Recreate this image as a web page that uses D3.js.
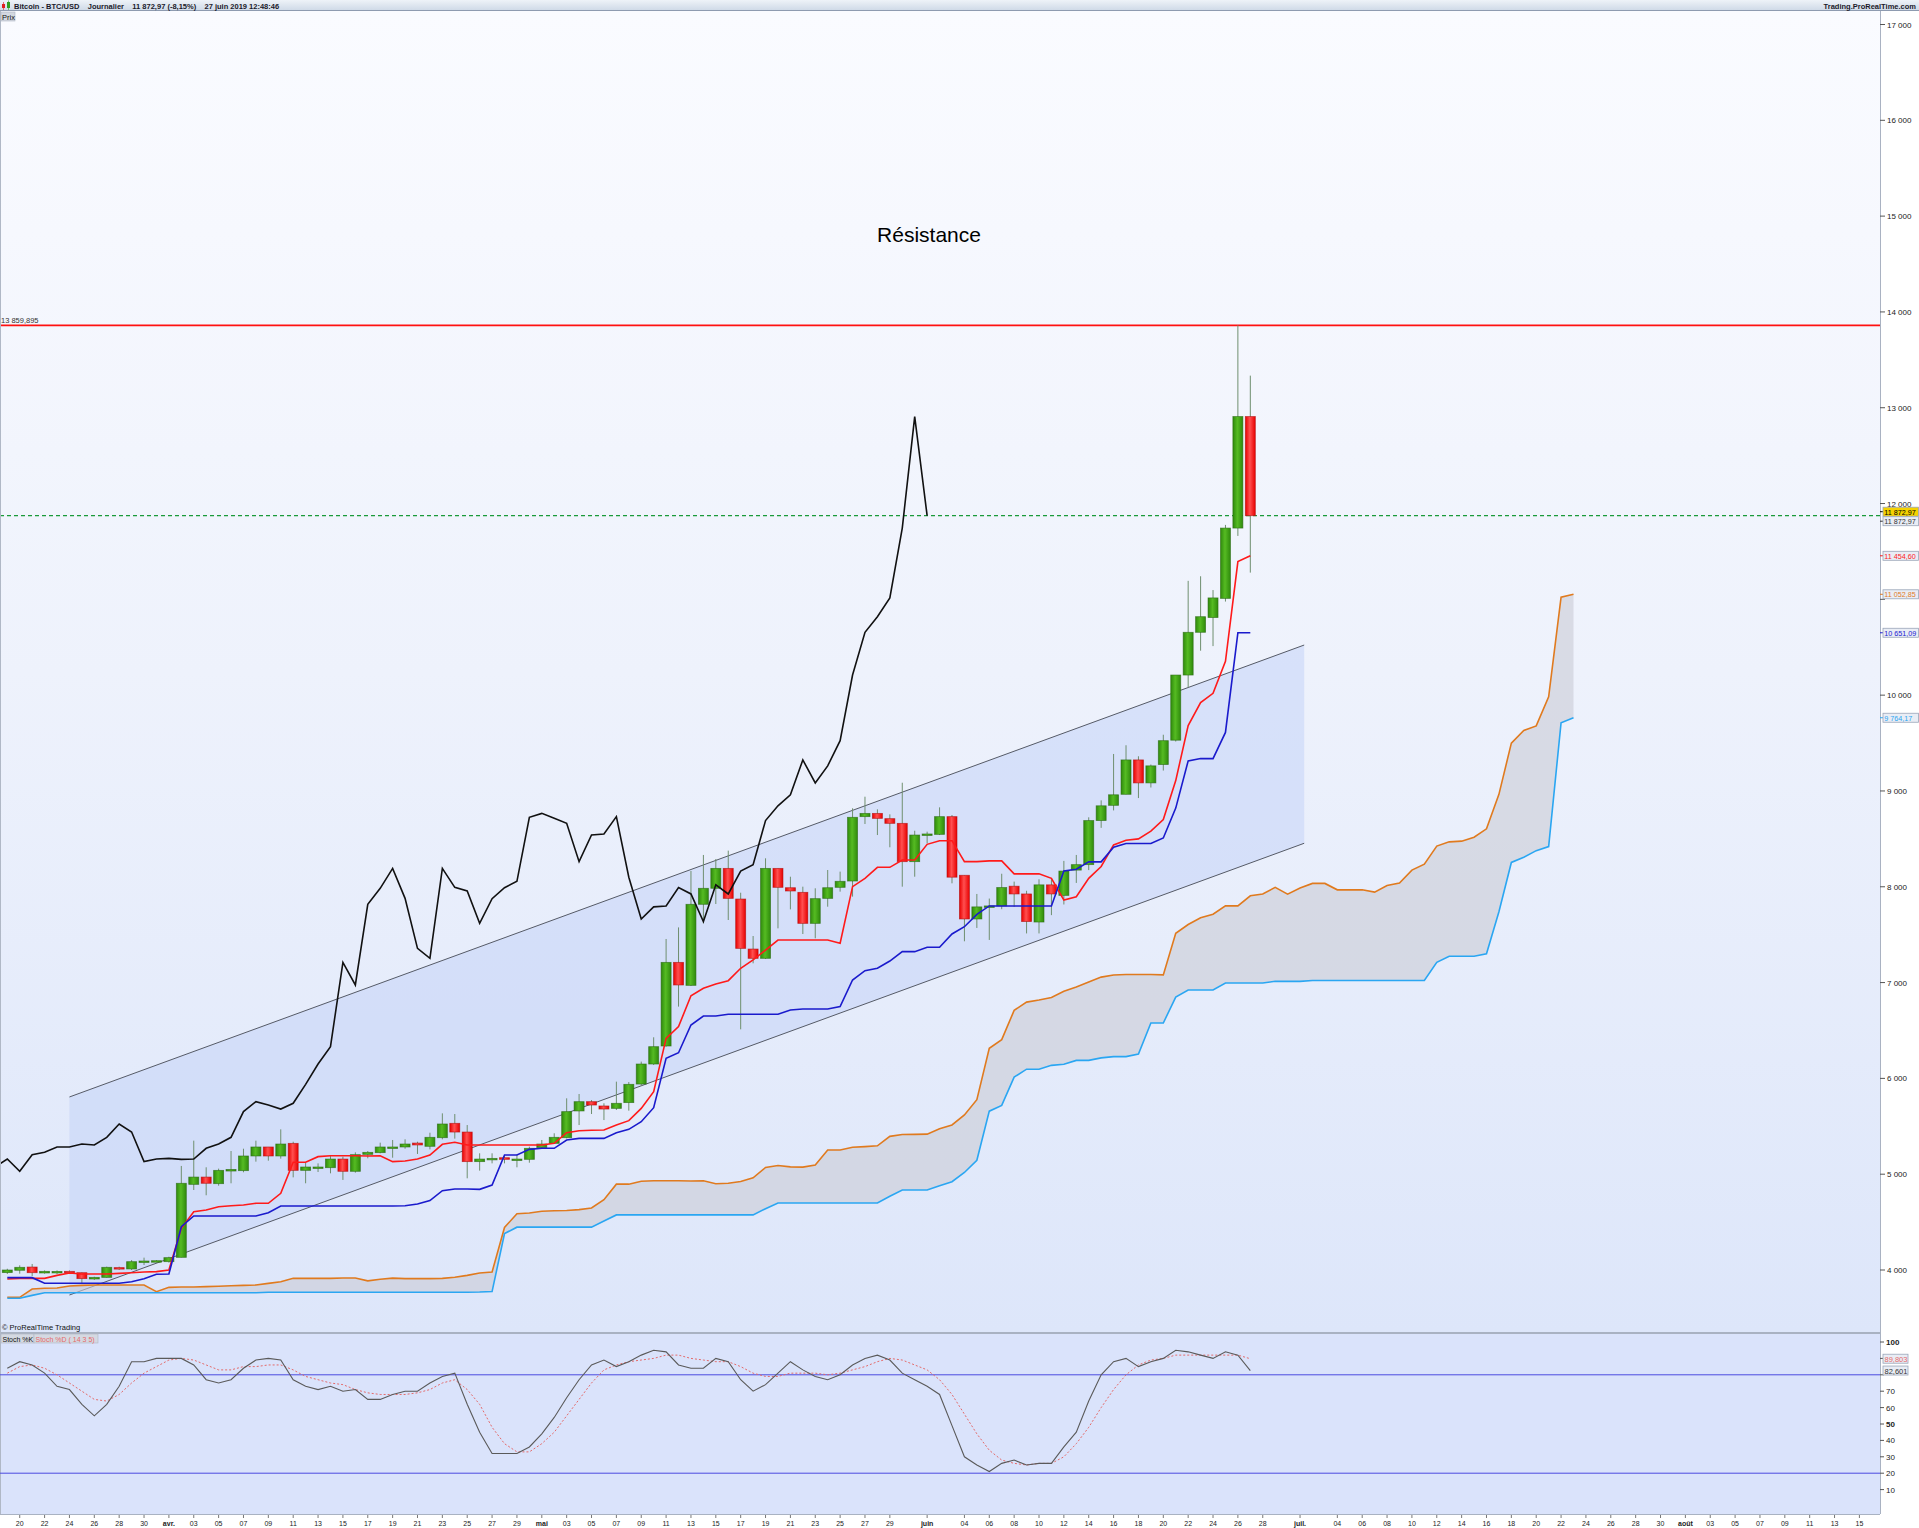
<!DOCTYPE html>
<html><head><meta charset="utf-8">
<script src="https://cdn.jsdelivr.net/npm/d3@7"></script>
<style>
body{margin:0;background:#fff;}
svg{display:block;}
text{font-family:"Liberation Sans",Arial,sans-serif;}
</style>
</head><body>
<svg id="c" width="1919" height="1528"></svg>
<script>
// ---------------- DATA ----------------
const startDate = "2019-03-19";
const open  = [3973,3997,4031,3969,3982,3986,3972,3906,3923,4025,4011,4090,4094,4087,4132,4894,4970,4901,5033,5037,5190,5284,5190,5322,5040,5070,5068,5158,5030,5207,5225,5280,5284,5325,5291,5381,5531,5440,5131,5160,5172,5155,5155,5277,5322,5381,5660,5757,5712,5687,5747,5941,6150,6338,7211,6971,7817,7984,8192,7872,7350,7253,8192,7990,7942,7618,7879,7994,8060,8732,8766,8711,8662,8262,8537,8547,8732,8120,7664,7790,7800,8006,7925,7632,8020,7910,8174,8231,8691,8850,8965,9324,9084,9276,9530,10210,10656,10810,11010,11744,12908];
const high  = [4013,4049,4063,3996,3996,3996,3976,3930,4035,4035,4104,4129,4104,4139,5086,5350,5072,5058,5242,5266,5350,5284,5468,5339,5120,5113,5193,5183,5228,5242,5329,5357,5364,5339,5433,5635,5628,5513,5218,5218,5200,5207,5287,5357,5427,5792,5837,5774,5740,5966,5962,6175,6429,7455,7576,8165,8332,8290,8377,7938,7486,8297,8192,8105,8001,7984,8175,8158,8819,8940,8808,8756,9086,8585,8575,8829,8749,8120,7925,7877,8136,8054,7958,8078,8078,8270,8332,8725,8902,9386,9477,9362,9276,9587,10210,11193,11241,11097,11777,13859.895,13335];
const low   = [3958,3962,3937,3962,3958,3962,3861,3896,3920,4000,4000,4052,4080,4077,4132,4835,4780,4880,4905,5020,5131,5141,5162,4967,4905,5023,5009,4940,5016,5166,5218,5172,5266,5211,5259,5364,5371,4957,5037,5113,5113,5072,5120,5270,5315,5374,5513,5628,5565,5670,5663,5924,6140,6331,6749,6964,7618,7820,7653,6512,7201,7246,7566,7764,7507,7462,7792,7949,7897,8655,8540,8412,8001,8105,8453,8540,8036,7431,7570,7445,7766,7790,7513,7513,7704,7815,8040,8174,8615,8797,8965,8926,9036,9213,9516,10081,10464,10512,10977,11662,11279];
const close = [4000,4028,3972,3986,3985,3972,3910,3923,4028,4011,4087,4094,4097,4129,4905,4970,4905,5040,5050,5190,5284,5190,5315,5040,5075,5075,5158,5030,5204,5228,5284,5284,5315,5305,5385,5524,5440,5131,5158,5165,5155,5158,5270,5315,5385,5653,5757,5722,5680,5740,5938,6150,6331,7211,6975,7817,7984,8192,7879,7357,7253,8192,7994,7956,7618,7876,7990,8057,8725,8766,8714,8662,8262,8540,8551,8732,8100,7664,7790,7800,7992,7925,7637,8020,7925,8164,8231,8691,8845,8960,9324,9084,9262,9525,10210,10656,10819,11015,11744,12908,11872.97];

// Ichimoku
const tenkan = [3906,3913,3913,3913,3944,3969,3958,3958,3958,3965,3972,3979,3983,4000,4435,4609,4626,4661,4671,4678,4696,4696,4800,5124,5124,5183,5193,5193,5193,5190,5193,5131,5138,5158,5200,5312,5333,5305,5305,5305,5305,5305,5305,5305,5322,5433,5454,5458,5461,5514,5559,5687,5861,6418,6540,6863,6940,6985,7020,7149,7236,7340,7444,7444,7444,7444,7444,7410,8001,8088,8203,8203,8279,8279,8443,8481,8481,8262,8262,8270,8270,8135,8135,8135,8088,7862,7896,8088,8212,8437,8485,8500,8581,8701,9108,9683,9923,10019,10354,11394,11454.60];
const kijun  = [3920,3920,3920,3861,3861,3861,3861,3861,3861,3861,3878,3909,3955,3958,4452,4564,4564,4564,4564,4564,4564,4598,4668,4668,4668,4668,4668,4668,4668,4668,4668,4668,4671,4689,4724,4828,4846,4846,4842,4887,5200,5200,5259,5270,5270,5357,5374,5374,5374,5433,5468,5548,5694,6209,6268,6557,6651,6651,6669,6669,6669,6669,6669,6714,6724,6724,6724,6749,7027,7124,7149,7225,7323,7323,7368,7368,7507,7583,7712,7800,7800,7800,7800,7800,7800,8164,8183,8260,8260,8413,8452,8452,8452,8509,8821,9314,9338,9338,9611,10651.09,10651.09];
const senkouA = [3715,3715,3802,3809,3812,3833,3840,3843,3843,3843,3843,3843,3774,3819,3822,3823,3826,3830,3835,3840,3843,3860,3878,3913,3913,3913,3913,3917,3917,3887,3903,3915,3910,3910,3910,3913,3925,3944,3969,3979,4444,4587,4595,4613,4618,4621,4630,4647,4734,4896,4896,4926,4931,4931,4931,4929,4931,4900,4905,4924,4962,5070,5090,5076,5074,5096,5253,5253,5282,5288,5296,5395,5414,5416,5418,5474,5514,5618,5778,6314,6404,6710,6796,6818,6845,6909,6953,7005,7057,7079,7084,7084,7084,7080,7514,7606,7676,7714,7801,7801,7906,7925,7994,7923,7987,8035,8035,7968,7968,7968,7944,8013,8040,8174,8236,8425,8469,8476,8517,8605,8965,9499,9631,9679,9983,11023,11052.85];
const senkouB = [3705,3705,3735,3763,3763,3763,3763,3763,3763,3763,3763,3763,3763,3763,3763,3763,3763,3763,3763,3763,3763,3768,3768,3768,3768,3768,3768,3768,3768,3768,3768,3768,3768,3768,3768,3768,3768,3768,3770,3775,4380,4447,4447,4447,4447,4447,4447,4447,4511,4575,4575,4575,4575,4575,4575,4575,4575,4575,4575,4575,4575,4640,4700,4700,4700,4700,4700,4700,4700,4700,4700,4770,4835,4835,4835,4880,4922,5018,5145,5658,5718,6013,6096,6096,6136,6148,6188,6188,6214,6227,6227,6254,6578,6578,6849,6922,6922,6922,6995,6995,6995,6995,7013,7013,7013,7021,7021,7021,7021,7021,7021,7021,7021,7021,7021,7212,7275,7275,7275,7300,7740,8254,8308,8377,8420,9712,9764.17];
const chikouShift = 26;

// Stochastic (14 3 5)
const stochK = [84,88,86,81,73,71,62,55,62,73,88,88,90,90,90,86,77,75,77,84,89,90,89,77,73,71,73,70,71,65,65,68,70,70,75,79,81,62,45,32,32,32,36,44,54,66,77,86,89,85,88,92,95,94,86,84,84,90,88,77,70,74,81,88,83,79,77,80,86,90,92,89,81,77,73,68,49,30,25,21,26,28,25,26,26,36,45,64,80,88,90,85,88,90,95,94,92,90,94,92,82.601];
const stochD = [81,85,86,84,80,75,70,65,64,68,75,81,85,89,90,89,86,83,83,85,85,86,86,83,79,77,75,74,71,69,68,68,68,69,71,75,77,71,62,48,38,33,33,38,45,55,65,75,83,86,88,89,90,92,92,90,89,88,88,85,81,79,79,81,81,81,80,81,83,85,88,90,89,86,83,77,68,56,44,34,28,26,25,26,26,30,38,48,60,71,80,86,89,90,92,92,92,92,92,92,89.803];

// Trend channel
const channelDates = ["2019-03-24T00:00:00Z","2019-07-01T08:00:00Z"];
const channelUpper = [5806,10523];
const channelLower = [3739,8454];

const resistance = 13859.895;
const lastPrice = 11872.97;

const priceTicks = [4000,5000,6000,7000,8000,9000,10000,11000,12000,13000,14000,15000,16000,17000];
const priceTickHidden = [11000];          // covered by the value tag in the reference
const stochTicks = [10,20,30,40,50,60,70,80,90,100];
const stochTickHidden = [80,90];          // covered by the value tags in the reference
const xTickDates = ["2019-03-20","2019-03-22","2019-03-24","2019-03-26","2019-03-28","2019-03-30","2019-04-01","2019-04-03","2019-04-05","2019-04-07","2019-04-09","2019-04-11","2019-04-13","2019-04-15","2019-04-17","2019-04-19","2019-04-21","2019-04-23","2019-04-25","2019-04-27","2019-04-29","2019-05-01","2019-05-03","2019-05-05","2019-05-07","2019-05-09","2019-05-11","2019-05-13","2019-05-15","2019-05-17","2019-05-19","2019-05-21","2019-05-23","2019-05-25","2019-05-27","2019-05-29","2019-06-01","2019-06-04","2019-06-06","2019-06-08","2019-06-10","2019-06-12","2019-06-14","2019-06-16","2019-06-18","2019-06-20","2019-06-22","2019-06-24","2019-06-26","2019-06-28","2019-07-01","2019-07-04","2019-07-06","2019-07-08","2019-07-10","2019-07-12","2019-07-14","2019-07-16","2019-07-18","2019-07-20","2019-07-22","2019-07-24","2019-07-26","2019-07-28","2019-07-30","2019-08-01","2019-08-03","2019-08-05","2019-08-07","2019-08-09","2019-08-11","2019-08-13","2019-08-15"];
const xTickLabels = ["20","22","24","26","28","30","avr.","03","05","07","09","11","13","15","17","19","21","23","25","27","29","mai","03","05","07","09","11","13","15","17","19","21","23","25","27","29","juin","04","06","08","10","12","14","16","18","20","22","24","26","28","juil.","04","06","08","10","12","14","16","18","20","22","24","26","28","30","août","03","05","07","09","11","13","15"];

// ---------------- DRAW ----------------
const W = 1919, H = 1528, AX = 1880;
const mainTop = 11, mainBot = 1332, stTop = 1333, stBot = 1514;
const svg = d3.select("#c");
const defs = svg.append("defs");
const parse = d3.utcParse("%Y-%m-%d");
const d0 = parse(startDate);
const dates = d3.range(senkouA.length).map(i => d3.utcDay.offset(d0, i));

const x = d3.scaleUtc().domain([d0, parse("2019-08-15")]).range([7.3, 1859.4]);
const y = d3.scaleLinear().domain([4000, 17000]).range([1270, 24.5]);
const ys = d3.scaleLinear().domain([0, 100]).range([1506, 1342]);

function vgrad(id, stops, horiz) {
  const g = defs.append("linearGradient").attr("id", id)
    .attr("x1", 0).attr("y1", 0).attr("x2", horiz ? 1 : 0).attr("y2", horiz ? 0 : 1);
  stops.forEach(s => g.append("stop").attr("offset", s[0]).attr("stop-color", s[1]));
}
vgrad("bgMain", [[0, "#fafbff"], [0.5, "#eef2fc"], [1, "#dde6fa"]]);
vgrad("hdr", [[0, "#eef3f8"], [1, "#cdd8e6"]]);
vgrad("gG", [[0, "#2f8a0c"], [0.45, "#55bb22"], [1, "#2f8a0c"]], true);
vgrad("gR", [[0, "#e80000"], [0.45, "#ff5050"], [1, "#e80000"]], true);

defs.append("clipPath").attr("id", "clipMain").append("rect")
  .attr("x", 0).attr("y", mainTop).attr("width", AX).attr("height", mainBot - mainTop);
defs.append("clipPath").attr("id", "clipSt").append("rect")
  .attr("x", 0).attr("y", stTop).attr("width", AX).attr("height", stBot - stTop);

// backgrounds
svg.append("rect").attr("x", 0).attr("y", 0).attr("width", W).attr("height", H).attr("fill", "#ffffff");
svg.append("rect").attr("x", 0).attr("y", mainTop).attr("width", AX).attr("height", mainBot - mainTop).attr("fill", "url(#bgMain)");
svg.append("rect").attr("x", 0).attr("y", stTop).attr("width", AX).attr("height", stBot - stTop).attr("fill", "#dae3fb");

const gm = svg.append("g").attr("clip-path", "url(#clipMain)");

// channel fill and lines
const cd = channelDates.map(d => d3.isoParse(d));
gm.append("path")
  .attr("d", `M${x(cd[0])},${y(channelUpper[0])}L${x(cd[1])},${y(channelUpper[1])}L${x(cd[1])},${y(channelLower[1])}L${x(cd[0])},${y(channelLower[0])}Z`)
  .attr("fill", "#c4d3f7").attr("fill-opacity", 0.55);
[channelUpper, channelLower].forEach(arr => {
  gm.append("line").attr("x1", x(cd[0])).attr("y1", y(arr[0])).attr("x2", x(cd[1])).attr("y2", y(arr[1]))
    .attr("stroke", "#555a66").attr("stroke-width", 1);
});

// cloud
const area = d3.area().x((d, i) => x(dates[i])).y0((d, i) => y(senkouB[i])).y1(d => y(d));
gm.append("path").datum(senkouA).attr("d", area).attr("fill", "#c9ccd6").attr("fill-opacity", 0.6);

const line = arr => d3.line().x((d, i) => x(dates[i])).y(d => y(d))(arr);
gm.append("path").attr("d", line(senkouA)).attr("fill", "none").attr("stroke", "#e07a1e").attr("stroke-width", 1.6);
gm.append("path").attr("d", line(senkouB)).attr("fill", "none").attr("stroke", "#2aa6f2").attr("stroke-width", 1.6);

// resistance & last price
gm.append("line").attr("x1", 0).attr("x2", AX).attr("y1", y(resistance)).attr("y2", y(resistance))
  .attr("stroke", "#ff1010").attr("stroke-width", 1.6);
gm.append("line").attr("x1", 0).attr("x2", AX).attr("y1", y(lastPrice)).attr("y2", y(lastPrice))
  .attr("stroke", "#1a9a3a").attr("stroke-width", 1.2).attr("stroke-dasharray", "4,3");
svg.append("text").attr("x", 1).attr("y", y(resistance) - 2.5).attr("font-size", 7.5).attr("fill", "#333")
  .text("13 859,895");

// candles
const cg = gm.append("g");
close.forEach((c, i) => {
  const o = open[i], up = c >= o, cx = x(dates[i]);
  cg.append("line").attr("x1", cx).attr("x2", cx).attr("y1", y(high[i])).attr("y2", y(low[i]))
    .attr("stroke", "#6f8f6f").attr("stroke-width", 1);
  const top = y(Math.max(o, c)), bot = y(Math.min(o, c));
  cg.append("rect").attr("x", cx - 5).attr("width", 10).attr("y", top).attr("height", Math.max(1.5, bot - top))
    .attr("fill", up ? "url(#gG)" : "url(#gR)").attr("stroke", up ? "#2b6b12" : "#b01010").attr("stroke-width", 0.8)
    .attr("stroke-opacity", 0.7);
});

// tenkan, kijun, chikou
gm.append("path").attr("d", line(tenkan)).attr("fill", "none").attr("stroke", "#ff1a1a").attr("stroke-width", 1.6);
gm.append("path").attr("d", line(kijun)).attr("fill", "none").attr("stroke", "#1a1acc").attr("stroke-width", 1.6);
const chikouIdx = d3.range(-1, close.length - chikouShift);
gm.append("path").attr("d", d3.line()
    .x(i => x(d3.utcDay.offset(d0, i))).y(i => y(close[i + chikouShift]))(chikouIdx))
  .attr("fill", "none").attr("stroke", "#111").attr("stroke-width", 1.6);

// Résistance label
svg.append("text").attr("x", 929).attr("y", 242).attr("text-anchor", "middle").attr("font-size", 21)
  .attr("fill", "#000").text("Résistance");

// panel borders
svg.append("line").attr("x1", 0).attr("x2", AX).attr("y1", mainBot + 0.5).attr("y2", mainBot + 0.5).attr("stroke", "#a9b2c2");
svg.append("line").attr("x1", 0).attr("x2", AX).attr("y1", stTop + 0.5).attr("y2", stTop + 0.5).attr("stroke", "#a9b2c2");
svg.append("line").attr("x1", 0).attr("x2", AX).attr("y1", stBot + 0.5).attr("y2", stBot + 0.5).attr("stroke", "#a9b2c2");
svg.append("line").attr("x1", 0.5).attr("x2", 0.5).attr("y1", mainTop).attr("y2", stBot).attr("stroke", "#b0b8c6");
svg.append("line").attr("x1", AX + 0.5).attr("x2", AX + 0.5).attr("y1", mainTop).attr("y2", stBot).attr("stroke", "#a9b2c2");

// right price axis
const pa = svg.append("g");
priceTicks.forEach(p => {
  pa.append("line").attr("x1", AX).attr("x2", AX + 5).attr("y1", y(p)).attr("y2", y(p)).attr("stroke", "#555");
  if (priceTickHidden.includes(p)) return;
  pa.append("text").attr("x", AX + 7).attr("y", y(p) + 3).attr("font-size", 8).attr("fill", "#222")
    .text(d3.format(",")(p).replace(",", " "));
});
function tag(g, yy, txt, color, fill) {
  g.append("line").attr("x1", AX).attr("x2", AX + 4).attr("y1", yy).attr("y2", yy).attr("stroke", color);
  g.append("rect").attr("x", AX + 3).attr("y", yy - 4.5).attr("width", 35.5).attr("height", 9)
    .attr("fill", fill || "#e9edf5").attr("stroke", "#9aa5b8").attr("stroke-width", 0.8);
  g.append("text").attr("x", AX + 4.2).attr("y", yy + 2.8).attr("font-size", 7.2).attr("fill", fill ? "#000" : color).text(txt);
}
tag(pa, y(lastPrice) - 4, "11 872,97", "#000", "#f5d200");
tag(pa, y(lastPrice) + 5.5, "11 872,97", "#333");
tag(pa, y(tenkan[tenkan.length - 1]), "11 454,60", "#ff1a1a");
tag(pa, y(senkouA[senkouA.length - 1]), "11 052,85", "#e07a1e");
tag(pa, y(kijun[kijun.length - 1]), "10 651,09", "#2020d0");
tag(pa, y(senkouB[senkouB.length - 1]), "9 764,17", "#2aa6f2");

// stochastic panel
const gs = svg.append("g").attr("clip-path", "url(#clipSt)");
[80, 20].forEach(v => gs.append("line").attr("x1", 0).attr("x2", AX).attr("y1", ys(v)).attr("y2", ys(v))
  .attr("stroke", "#4b4be0").attr("stroke-width", 1));
const sline = d3.line().x((d, i) => x(dates[i])).y(d => ys(d));
gs.append("path").attr("d", sline(stochD)).attr("fill", "none").attr("stroke", "#e46a6a").attr("stroke-width", 1)
  .attr("stroke-dasharray", "2,2");
gs.append("path").attr("d", sline(stochK)).attr("fill", "none").attr("stroke", "#5a5a5a").attr("stroke-width", 1.1);

stochTicks.forEach(v => {
  pa.append("line").attr("x1", AX).attr("x2", AX + 4).attr("y1", ys(v)).attr("y2", ys(v)).attr("stroke", "#555");
  if (stochTickHidden.includes(v)) return;
  pa.append("text").attr("x", AX + 6).attr("y", ys(v) + 3).attr("font-size", 8)
    .attr("font-weight", (v === 100 || v === 50) ? "bold" : "normal").attr("fill", "#222").text(v);
});
function stag(yy, txt, color) {
  pa.append("rect").attr("x", AX + 3).attr("y", yy - 4.5).attr("width", 25).attr("height", 9)
    .attr("fill", "#e9edf5").attr("stroke", "#9aa5b8").attr("stroke-width", 0.8);
  pa.append("text").attr("x", AX + 4.5).attr("y", yy + 3).attr("font-size", 7.5).attr("fill", color).text(txt);
}
stag(ys(stochD[stochD.length - 1]), "89,803", "#e46a6a");
stag(ys(stochK[stochK.length - 1]), "82,601", "#333");

// stochastic title boxes
svg.append("rect").attr("x", 1).attr("y", stTop + 1).attr("width", 33).attr("height", 9).attr("fill", "#d4d9e2").attr("stroke", "#b0b6c2").attr("stroke-width", 0.6);
svg.append("rect").attr("x", 34).attr("y", stTop + 1).attr("width", 64).attr("height", 9).attr("fill", "#d4d9e2").attr("stroke", "#b0b6c2").attr("stroke-width", 0.6);
svg.append("text").attr("x", 2.5).attr("y", stTop + 8.5).attr("font-size", 7).attr("fill", "#111").text("Stoch %K");
svg.append("text").attr("x", 35.5).attr("y", stTop + 8.5).attr("font-size", 7).attr("fill", "#e46a6a").text("Stoch %D ( 14 3 5)");
svg.append("text").attr("x", 2).attr("y", mainBot - 2).attr("font-size", 7.5).attr("fill", "#111").text("© ProRealTime Trading");

// x axis
const xa = svg.append("g");
xTickDates.forEach((d, k) => {
  const xx = x(parse(d)), lab = xTickLabels[k], isMonth = isNaN(+lab);
  xa.append("line").attr("x1", xx).attr("x2", xx).attr("y1", stBot + 1).attr("y2", stBot + 4).attr("stroke", "#777");
  xa.append("text").attr("x", xx).attr("y", stBot + 12).attr("text-anchor", "middle").attr("font-size", 7)
    .attr("font-weight", isMonth ? "bold" : "normal").attr("fill", "#222")
    .style("font-family", "'Liberation Sans Narrow','Liberation Sans',Arial,sans-serif").text(lab);
});

// header
svg.append("rect").attr("x", 0).attr("y", 0).attr("width", W).attr("height", mainTop).attr("fill", "url(#hdr)");
svg.append("line").attr("x1", 0).attr("x2", W).attr("y1", mainTop - 0.5).attr("y2", mainTop - 0.5).attr("stroke", "#8e9bb0");
svg.append("rect").attr("x", 2).attr("y", 4).attr("width", 3).attr("height", 4).attr("fill", "#e02020");
svg.append("line").attr("x1", 3.5).attr("x2", 3.5).attr("y1", 2).attr("y2", 10).attr("stroke", "#e02020").attr("stroke-width", 0.6);
svg.append("rect").attr("x", 7).attr("y", 2).attr("width", 3).attr("height", 6).attr("fill", "#30a020");
svg.append("line").attr("x1", 8.5).attr("x2", 8.5).attr("y1", 0.5).attr("y2", 10).attr("stroke", "#30a020").attr("stroke-width", 0.6);
svg.append("text").attr("x", 14).attr("y", 8.5).attr("font-size", 7.5).attr("font-weight", "bold").attr("fill", "#1a1a2a")
  .attr("xml:space", "preserve").text("Bitcoin - BTC/USD    Journalier    11 872,97 (-8,15%)    27 juin 2019 12:48:46");
svg.append("text").attr("x", 1916).attr("y", 8.5).attr("text-anchor", "end").attr("font-size", 7.5).attr("font-weight", "bold")
  .attr("fill", "#1a1a2a").text("Trading.ProRealTime.com");
svg.append("rect").attr("x", 1).attr("y", 12).attr("width", 14).attr("height", 9).attr("fill", "#d3d8e0").attr("stroke", "#b0b6c2").attr("stroke-width", 0.6);
svg.append("text").attr("x", 2).attr("y", 19.5).attr("font-size", 7.5).attr("fill", "#111").text("Prix");
</script>
</body></html>
